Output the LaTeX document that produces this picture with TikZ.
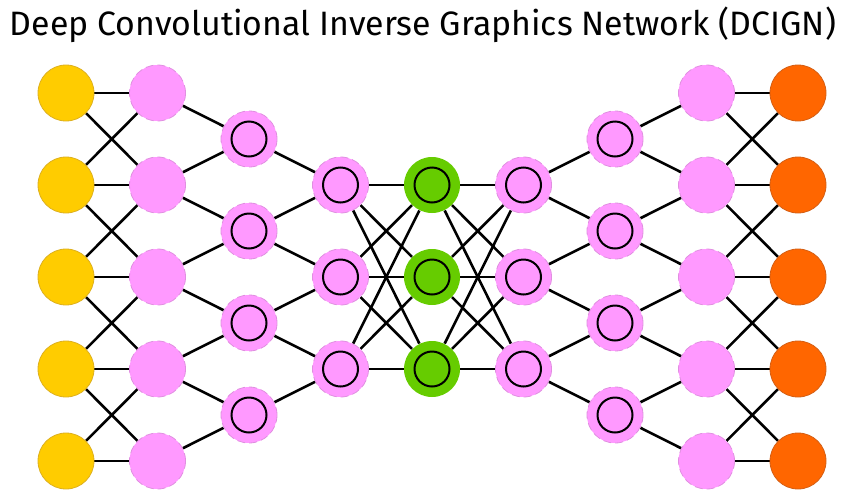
\documentclass[tikz,border=0pt]{standalone}
\usepackage{fontspec}
\setmainfont{Fira Sans}
\usetikzlibrary{backgrounds}
\definecolor{cyel}{HTML}{FFCC00}
\definecolor{cyelb}{HTML}{DDB020}
\definecolor{cpink}{HTML}{FF99FF}
\definecolor{cpinkb}{HTML}{E08FE0}
\definecolor{cgreen}{HTML}{66CC00}
\definecolor{corange}{HTML}{FF6600}
\definecolor{coranb}{HTML}{D45F15}
\tikzset{
  cellbase/.style={circle, minimum size=56pt, inner sep=0pt, line width=0.8pt},
  inputcell/.style={cellbase, fill=cyel, draw=cyelb},
  hiddencell/.style={cellbase, fill=cpink, draw=cpinkb, dash pattern=on 8pt off 4pt},
  ring/.style={path picture={\draw[line width=2pt, black, solid] (path picture bounding box.center) circle (17.5pt);}},
  convcell/.style={hiddencell, ring},
  probcell/.style={cellbase, fill=cgreen, ring},
  outputcell/.style={cellbase, fill=corange, draw=coranb},
  edge/.style={line width=2.6pt, black},
  titletext/.style={inner sep=0pt, anchor=center}
}
\begin{document}
\begin{tikzpicture}[x=1pt,y=-1pt]
\useasboundingbox (0,0) rectangle (842,501);
\node[titletext] (title) at (423,25) {\resizebox{826pt}{!}{Deep Convolutional Inverse Graphics Network (DCIGN)}};
% columns
\foreach \y [count=\r] in {93,185,277,369,461} {
  \node[inputcell]  (c1-\r) at (66,\y) {};
  \node[hiddencell] (c2-\r) at (157.5,\y) {};
  \node[hiddencell] (c8-\r) at (706.5,\y) {};
  \node[outputcell] (c9-\r) at (798,\y) {};
}
\foreach \y [count=\r] in {139,231,323,415} {
  \node[convcell] (c3-\r) at (249,\y) {};
  \node[convcell] (c7-\r) at (615,\y) {};
}
\foreach \y [count=\r] in {185,277,369} {
  \node[convcell] (c4-\r) at (340.5,\y) {};
  \node[probcell] (c5-\r) at (432,\y) {};
  \node[convcell] (c6-\r) at (523.5,\y) {};
}
\begin{scope}[on background layer]
  \foreach \a/\b in {1/1,1/2,2/1,2/2,2/3,3/2,3/3,3/4,4/3,4/4,4/5,5/4,5/5} {
    \draw[edge] (c1-\a) -- (c2-\b);
    \draw[edge] (c8-\a) -- (c9-\b);
  }
  \foreach \a/\b in {1/1,2/1,2/2,3/2,3/3,4/3,4/4,5/4} {
    \draw[edge] (c2-\a) -- (c3-\b);
    \draw[edge] (c7-\b) -- (c8-\a);
  }
  \foreach \a/\b in {1/1,2/1,2/2,3/2,3/3,4/3} {
    \draw[edge] (c3-\a) -- (c4-\b);
    \draw[edge] (c6-\b) -- (c7-\a);
  }
  \foreach \a in {1,2,3} {
    \foreach \b in {1,2,3} {
      \draw[edge] (c4-\a) -- (c5-\b);
      \draw[edge] (c5-\a) -- (c6-\b);
    }
  }
\end{scope}
\end{tikzpicture}
\end{document}
